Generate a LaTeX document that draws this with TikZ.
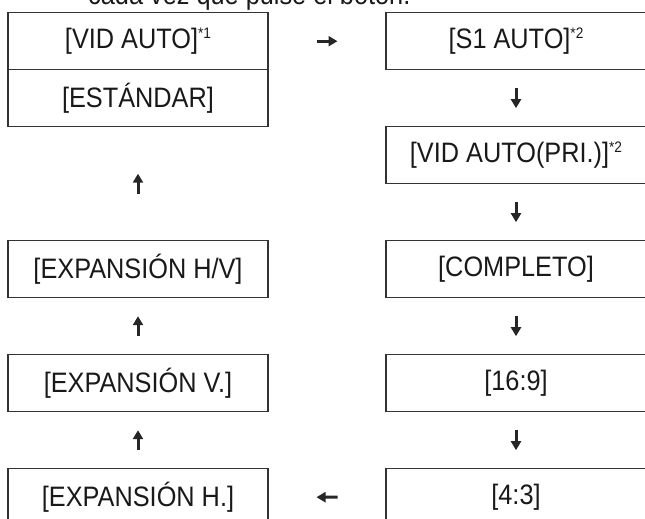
\documentclass[tikz,border=0pt]{standalone}
\usepackage{fontspec}
\setmainfont[FakeStretch=0.9]{Liberation Sans}
\usepackage{tikz}
\usetikzlibrary{
    arrows.meta,
    positioning
}
\newcommand{\modefont}{\fontsize{24}{28}\selectfont}
\newcommand{\sref}[1]{\raisebox{9pt}{\fontsize{13}{13}\selectfont #1}}
\tikzstyle{mode} = [
    rectangle,
    draw=black!80,
    line width=0.035cm,
    minimum width=7.8cm,
    minimum height=1.71cm,
    inner sep=0pt,
    outer sep=0pt,
    text=black!90,
    font=\modefont
]
\tikzstyle{flow} = [
    -{Triangle[length=0.27cm, width=0.3cm]},
    line width=0.09cm,
    draw=black!85
]
\tikzstyle{short} = [shorten <=0.555cm, shorten >=0.555cm]

\begin{document}
\begin{tikzpicture}[node distance=1.71cm and 3.54cm]
    \useasboundingbox (0,0) rectangle (19.35,-15.57);

    % Caption line, cut by the top edge
    \node[anchor=base west, inner sep=0pt, text=black!90, font=\modefont] (caption) at (2.64,-0.15) {cada vez que pulse el botón.};

    % Left column
    \node[mode] (vidauto) at (4.14,-1.236) {[VID AUTO]\sref{*1}};
    \node[mode, below=0cm of vidauto] (estandar) {[ESTÁNDAR]};
    \node[mode, below=3.42cm of estandar] (exphv) {[EXPANSIÓN H/V]};
    \node[mode, below=of exphv] (expv) {[EXPANSIÓN V.]};
    \node[mode, below=of expv] (exph) {[EXPANSIÓN H.]};

    % Right column
    \node[mode, right=of vidauto] (s1auto) {[S1 AUTO]\sref{*2}};
    \node[mode, below=of s1auto] (vidpri) {[VID AUTO(PRI.)]\sref{*2}};
    \node[mode, below=of vidpri] (completo) {[COMPLETO]};
    \node[mode, below=of completo] (wide) {[16:9]};
    \node[mode, below=of wide] (normal) {[4:3]};

    % Arrows
    \draw[flow, shorten <=1.455cm, shorten >=1.455cm] (vidauto) -- (s1auto);
    \draw[flow, short] (s1auto) -- (vidpri);
    \draw[flow, short] (vidpri) -- (completo);
    \draw[flow, short] (completo) -- (wide);
    \draw[flow, short] (wide) -- (normal);
    \draw[flow, shorten <=1.455cm, shorten >=1.455cm] (normal) -- (exph);
    \draw[flow, short] (exph) -- (expv);
    \draw[flow, short] (expv) -- (exphv);
    \draw[flow, shorten <=1.41cm, shorten >=1.41cm] (exphv) -- (estandar);
\end{tikzpicture}
\end{document}
